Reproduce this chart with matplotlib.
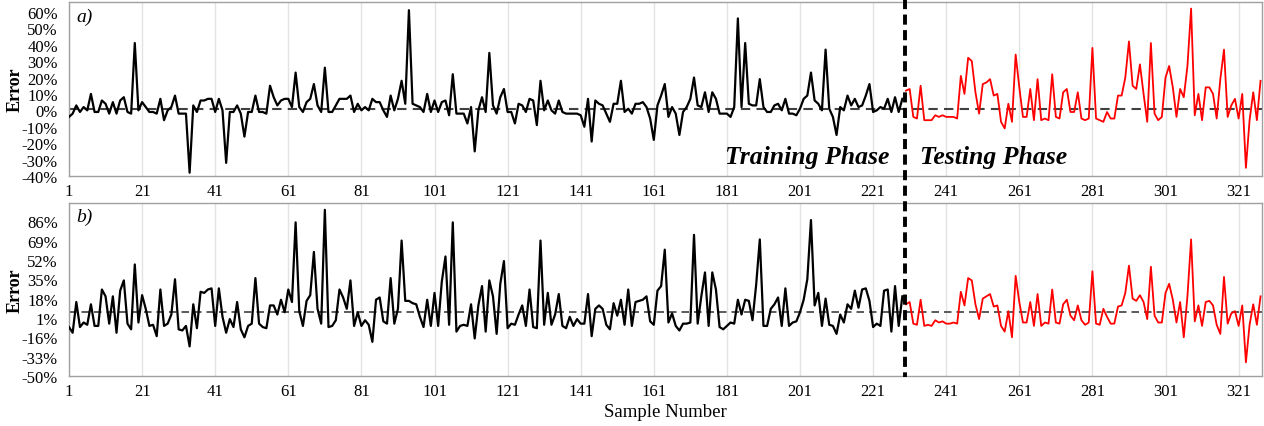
import numpy as np
import matplotlib
matplotlib.use("Agg")
import matplotlib.pyplot as plt
from matplotlib.lines import Line2D
from matplotlib.transforms import blended_transform_factory

plt.rcParams['font.family'] = ['Liberation Serif', 'DejaVu Serif']

# error values (%), panel a)
top_train = [-4, -2, 3, -1, 2, 0, 10, -1, -1, 6,
             4, -2, 5, -2, 6, 8, -1, -2, 41, 0,
             5, 2, -1, -1, -2, 7, -6, 0, 2, 9,
             -2, -2, -2, -38, 3, -1, 6, 6, 7, 7,
             -1, 7, 0, -32, -1, -1, 3, -2, -16, -1,
             -1, 9, -1, -1, -2, 15, 8, 3, 6, 7,
             7, 2, 23, 2, -1, 5, 7, 16, 3, -1,
             26, -1, -1, 3, 7, 7, 7, 9, -1, 4,
             0, 2, 0, 7, 5, 5, 0, -4, 9, 0,
             7, 18, 4, 61, 4, 3, 2, -1, 10, -1,
             6, -1, 5, 6, -3, 22, -2, -2, -2, -8,
             2, -25, 0, 8, -1, 35, 3, -2, 8, 13,
             -1, -1, -8, 4, 3, -1, 7, 6, -9, 18,
             0, 6, 0, -2, 6, -1, -2, -2, -2, -2,
             -3, -10, 7, -19, 6, 4, 3, -2, -7, 4,
             4, 18, -1, 1, -2, 4, 4, 5, 2, -5,
             -18, 3, 9, 16, -4, 2, -2, -15, -1, 2,
             7, 20, 3, 2, 11, -1, 11, 7, -2, -2,
             -2, -4, 2, 56, 2, 41, 4, 3, 3, 19,
             2, -1, -1, 3, 4, 0, 7, -2, -2, -3,
             1, 7, 9, 23, 6, 4, 0, 37, 1, -4,
             -15, 2, 0, 9, 3, 7, 2, 3, 9, 16,
             -1, 0, 2, 1, 7, -1, 8, -1, 7]
top_test = [12, 13, -4, -5, 15, -6, -6, -6, -3, -4,
            -3, -4, -4, -4, -5, 21, 10, 32, 30, 11,
            -2, 16, 17, 19, 9, 10, -7, -11, 4, -7,
            34, 14, -4, -4, 13, -6, 19, -6, -5, -6,
            22, -4, -5, 11, 13, -1, -1, 11, -5, -6,
            -5, 38, -5, -6, -7, -1, -5, -5, 9, 9,
            20, 42, 15, 13, 28, 10, -7, 41, -2, -6,
            -4, 20, 27, 14, -4, 13, 8, 27, 62, -3,
            10, -6, 14, 14, 10, -5, 19, 37, -4, 3,
            7, -5, 10, -35, -6, 11, -6, 18]

# panel b)
bot_train = [-7, -12, 15, -7, -3, -5, 13, -6, -6, 26,
             20, -4, 20, -12, 25, 34, -4, -9, 48, -3,
             21, 9, -6, -5, -15, 26, -6, -4, 4, 35,
             -9, -10, -6, -24, 13, -8, 24, 23, 26, 27,
             -6, 27, 2, -12, 0, -7, 15, -9, -16, -6,
             -4, 36, -4, -7, -8, 12, 12, 4, 17, 6,
             26, 15, 85, 7, -6, 16, 21, 59, 9, -4,
             96, -7, -6, -1, 26, 19, 9, 34, -6, 6,
             -6, -1, -5, -20, 17, 19, -2, -4, 36, -4,
             9, 69, 16, 16, 14, 13, 2, -7, 17, -6,
             23, -6, 33, 55, -5, 85, -11, -6, -5, -6,
             13, -17, 12, 29, -11, 34, 20, -13, 31, 51,
             -8, -4, -5, 4, 12, -6, 26, -7, -8, 69,
             -5, 23, -5, 4, 22, -6, -8, 2, -6, 0,
             -4, -4, 22, -15, 9, 12, 9, -5, -9, 14,
             3, 17, -5, 26, -6, 15, 16, 17, 20, -2,
             -5, 25, 29, 61, -3, 5, -6, -10, -4, -4,
             -3, 74, -4, 20, 41, -6, 41, 26, -7, -9,
             -6, -3, -4, 17, 4, 17, 16, -1, 30, 70,
             -6, -6, 9, 13, 19, -6, 27, -6, -3, -2,
             6, 17, 35, 87, 12, 23, -6, 18, -5, -6,
             -13, 4, -3, 13, 9, 25, 10, 26, 27, 16,
             -7, -4, -6, 25, 26, -11, 29, -6, 20]
bot_test = [13, 15, -4, -5, 17, -6, -5, -6, -1, -3,
            -2, -4, -4, -3, -4, 24, 12, 36, 34, 13,
            0, 18, 20, 22, 11, 12, -6, -11, 7, -16,
            38, 15, -3, -3, 15, -6, 22, -6, -3, -4,
            26, -3, -4, 13, 17, 3, -1, 12, -1, -5,
            -3, 42, -4, -5, 9, 2, -4, -4, 11, 12,
            23, 47, 18, 16, 21, 15, 0, 46, 3, -3,
            -3, 23, 31, 17, -3, 15, -16, 20, 70, -2,
            12, -6, 15, 16, 12, -5, -13, 37, -4, 5,
            7, -6, 12, -38, -5, 13, -5, 20]

top_mean = 1.0
bot_mean = 6.0
split_at = 229.6
xtick_labels = list(range(1, 322, 20))
top_yticks = list(range(-40, 61, 10))
bot_yticks = list(range(-50, 87, 17))

n_train = len(top_train)
x_train = np.arange(1, n_train + 1)
x_test = np.arange(n_train + 1, n_train + 1 + len(top_test))

W, H = 1264, 427
fig = plt.figure(figsize=(W / 100, H / 100), dpi=100)
ax1 = fig.add_axes([69 / W, 1 - 177 / H, (1262 - 69) / W, (177 - 3) / H])
ax2 = fig.add_axes([69 / W, 1 - 377 / H, (1262 - 69) / W, (377 - 204) / H])

panels = [(ax1, top_train, top_test, top_mean, top_yticks, (-40, 66), 'a)', 1.5),
          (ax2, bot_train, bot_test, bot_mean, bot_yticks, (-50, 102), 'b)', 1.2)]

for ax, tr, te, mean, yt, ylim, tag, mlw in panels:
    ax.plot(x_train, tr, color='black', lw=1.6, zorder=3)
    ax.plot(x_test, te, color='red', lw=1.3, zorder=3)
    ax.axhline(mean, color='#404040', lw=mlw, ls=(0, (4.5, 3)), zorder=2)
    ax.set_xlim(1, 327.4)
    ax.set_ylim(*ylim)
    ax.set_xticks(xtick_labels)
    ax.set_xticklabels([str(v) for v in xtick_labels])
    ax.set_yticks(yt)
    ax.set_yticklabels([f'{v}%' for v in yt])
    ax.grid(axis='x', color='#e3e3e3', lw=1, zorder=0)
    ax.tick_params(axis='x', length=0, labelsize=12, pad=5)
    ax.tick_params(axis='y', length=0, labelsize=12, pad=8)
    for s in ax.spines.values():
        s.set_color('#a0a0a0')
        s.set_linewidth(1.0)
    ax.set_ylabel('Error', fontsize=13, fontweight='bold')
    ax.yaxis.set_label_coords(-0.038, 0.5)
    ax.text(0.006, 0.92, tag, transform=ax.transAxes, fontsize=14,
            style='italic', ha='left', va='center')

ax2.set_xlabel('Sample Number', fontsize=13.5, labelpad=3)

ax1.text(203, -28, 'Training Phase', fontsize=18.5, fontweight='bold',
         style='italic', ha='center', va='center')
ax1.text(254, -28, 'Testing Phase', fontsize=18.5, fontweight='bold',
         style='italic', ha='center', va='center')

# split line across both panels
tr_blend = blended_transform_factory(ax1.transData, fig.transFigure)
fig.add_artist(Line2D([split_at, split_at], [1.0, 1 - 378 / H], transform=tr_blend,
                      color='black', lw=2.8, ls=(0, (2.6, 1.4))))

fig.savefig('out.png', dpi=100)
